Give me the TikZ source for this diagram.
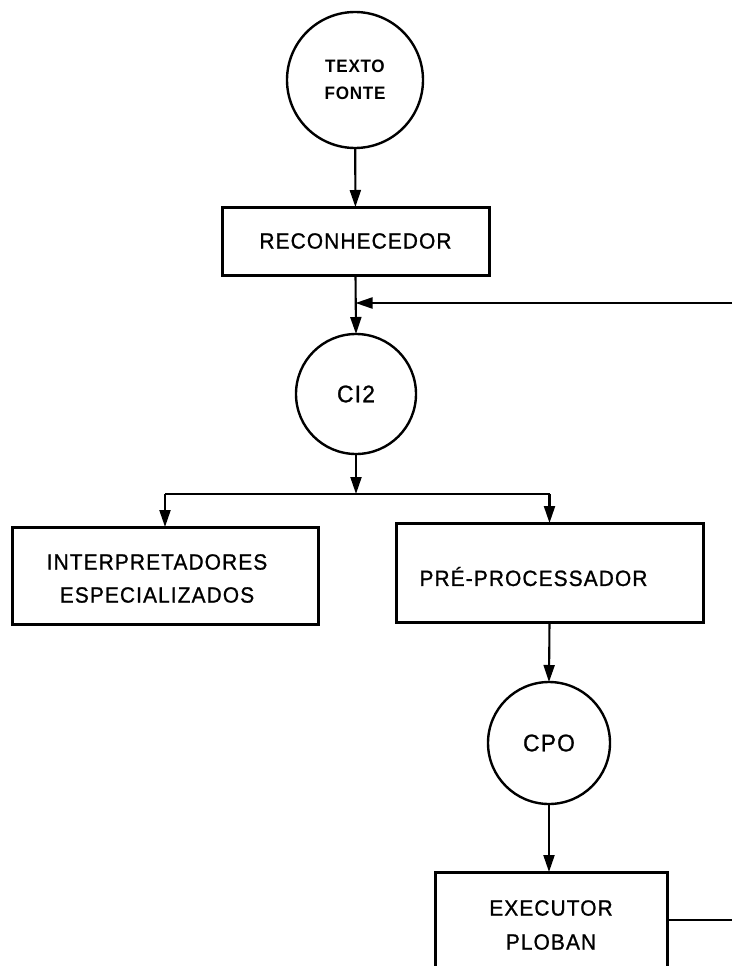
\documentclass[tikz,border=0pt]{standalone}
\usepackage{fontspec}
\setmainfont{Liberation Sans}[LetterSpace=5, FakeStretch=0.95, FakeBold=1.0]
\newfontfamily\srcfont{Liberation Sans Bold}[LetterSpace=4, FakeStretch=0.95]
\usetikzlibrary{arrows.meta}

\begin{document}
\begin{tikzpicture}[x=1pt, y=-1pt,
  every node/.style={inner sep=0pt, outer sep=0pt},
  txt/.style={font=\fontsize{22}{33}\selectfont, align=center},
  box/.style={draw, rectangle, line width=3pt},
  disc/.style={draw, circle, line width=2.4pt},
  link/.style={line width=2.1pt, -{Triangle[length=17pt, width=11pt]}},
  wire/.style={line width=2.1pt}]

\useasboundingbox (0,0) rectangle (732,966);
\clip (0,0) rectangle (732,966);

% source text
\node[disc, minimum size=136, align=center,
      font=\srcfont\fontsize{18}{27}\selectfont] (src) at (355,80) {TEXTO\\FONTE};

% recognizer
\node[box, txt, minimum width=267, minimum height=68] (rec) at (355.5,241) {RECONHECEDOR};

% intermediate code
\node[disc, minimum size=120, font=\fontsize{24}{27}\selectfont] (ci2) at (356,394) {CI2};

% the two consumers of CI2
\node[box, minimum width=306, minimum height=97,
      label={[txt, xshift=-8pt, yshift=-3pt]center:INTERPRETADORES\\ESPECIALIZADOS}]
      (interp) at (165,575.5) {};
\node[box, minimum width=307, minimum height=99,
      label={[txt, xshift=-16pt, yshift=-4pt]center:PRÉ-PROCESSADOR}]
      (prep) at (549.5,572.5) {};

% preprocessed code
\node[disc, minimum size=122, font=\fontsize{24}{27}\selectfont] (cpo) at (549,743) {CPO};

% executor
\node[box, minimum width=232, minimum height=140,
      label={[txt, font=\fontsize{22}{34}\selectfont, yshift=17pt]center:EXECUTOR\\PLOBAN}]
      (exec) at (551,942) {};

% connection points
\coordinate (fbin) at (732,303);
\coordinate (split) at (356,494);
\coordinate (out) at (732,920);

% connectors
\draw[link] (src) -- (rec);
\draw[link] (rec.south) -- (ci2.north);
\draw[link] (fbin) -- (rec.south |- fbin);
\draw[link] (ci2.south) -- (split);
\draw[wire] (split -| interp.north) -- (split -| prep.north);
\draw[link] (split -| interp.north) -- (interp.north);
\draw[link] (split -| prep.north) -- (prep.north);
\draw[link] (prep.south) -- (cpo.north);
\draw[link] (cpo.south) -- (cpo.south |- exec.north);
\draw[wire] (exec.east |- out) -- (out);
\end{tikzpicture}
\end{document}
